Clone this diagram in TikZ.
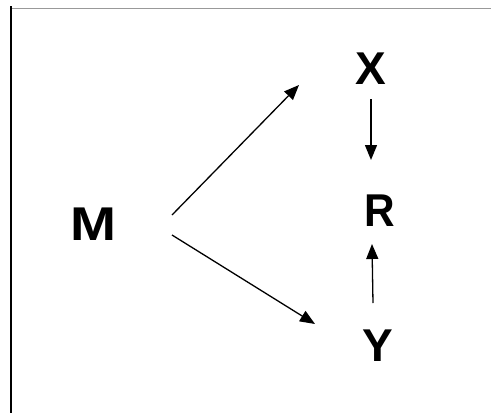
\documentclass[tikz,border=0pt]{standalone}
\usepackage{fontspec}
\setmainfont{Liberation Sans}
\usetikzlibrary{arrows.meta}
\begin{document}
\begin{tikzpicture}[x=1pt,y=-1pt,
  lbl/.style={font=\fontsize{46}{55}\selectfont\bfseries, inner sep=0pt, anchor=center},
  arr/.style={line width=1.3pt, -{Triangle[length=15pt,width=12pt]}}]
\useasboundingbox (0,0) rectangle (491,413);
\draw[gray!80, line width=1pt] (10,8) -- (491,8);
\draw[black, line width=2.2pt] (11,6) -- (11,413);
\node[lbl] (M) at (93,224) {\scalebox{1.2}[1.03]{M}};
\node[lbl] (X) at (371,69) {X};
\node[lbl] (R) at (380,211) {\scalebox{0.92}[1]{R}};
\node[lbl] (Y) at (377.5,346) {Y};
\draw[arr] ([shift={(79,-9)}]M.center) -- ([shift={(-72,16)}]X.center);
\draw[arr] ([shift={(79,11)}]M.center) -- ([shift={(-62.5,-22)}]Y.center);
\draw[arr] ([shift={(0,30)}]X.center) -- ([shift={(-9,-51)}]R.center);
\draw[arr] ([shift={(-4.5,-43)}]Y.center) -- ([shift={(-8,33)}]R.center);
\end{tikzpicture}
\end{document}
